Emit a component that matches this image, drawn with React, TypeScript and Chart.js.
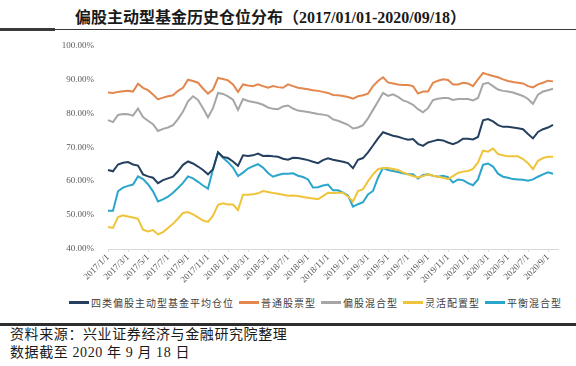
import React, { useEffect, useRef } from 'react';
import { Chart, registerables } from 'chart.js';

Chart.register(...registerables);

// Semi-monthly categories 2017/1/1 ... 2020/9/16, plus the axis end 2020/10/1
const categories: string[] = [];
for (let y = 2017; y <= 2020; y++) {
  for (let m = 1; m <= 12; m++) {
    if (y === 2020 && m > 9) break;
    categories.push(`${y}/${m}/1`, `${y}/${m}/16`);
  }
}
categories.push('2020/10/1');

const tickLabels: string[] = [
  '2017/1/1', '2017/3/1', '2017/5/1', '2017/7/1', '2017/9/1', '2017/11/1',
  '2018/1/1', '2018/3/1', '2018/5/1', '2018/7/1', '2018/9/1', '2018/11/1',
  '2019/1/1', '2019/3/1', '2019/5/1', '2019/7/1', '2019/9/1', '2019/11/1',
  '2020/1/1', '2020/3/1', '2020/5/1', '2020/7/1', '2020/9/1',
];

const avgPosition: number[] = [
  63.3, 62.9, 64.9, 65.4, 65.6, 64.9, 64.6, 62.0, 61.4, 61.0,
  59.4, 60.3, 60.8, 61.3, 62.9, 64.8, 65.8, 65.2, 64.3, 63.3,
  62.0, 63.5, 68.5, 67.1, 66.8, 65.8, 64.5, 67.6, 67.4, 67.6,
  68.1, 67.4, 67.5, 67.3, 67.2, 66.6, 66.3, 66.9, 66.8, 66.5,
  66.2, 65.7, 65.3, 66.2, 66.7, 66.3, 66.0, 65.7, 65.3, 63.8,
  66.3, 66.8, 68.5, 70.5, 72.6, 74.4, 73.9, 73.4, 73.1, 72.6,
  72.2, 72.4, 71.0, 70.4, 71.4, 71.8, 72.2, 72.0, 71.4, 70.9,
  71.5, 72.5, 72.5, 72.3, 73.0, 77.9, 78.3, 77.6, 76.5, 76.0,
  76.0, 75.8, 75.6, 75.3, 73.9, 72.6, 74.5, 75.3, 75.8, 76.6,
];

const stockFund: number[] = [
  86.1, 86.0, 86.3, 86.5, 86.6, 86.4, 88.7, 87.5, 86.8, 85.5,
  84.1, 84.6, 85.0, 85.3, 86.6, 87.5, 89.9, 89.5, 89.0, 87.3,
  85.8, 87.0, 90.4, 90.1, 89.7, 88.5, 86.3, 88.5, 88.2, 88.0,
  88.5, 88.0, 87.5, 88.0, 87.7, 87.5, 88.5, 88.0, 87.5, 87.3,
  87.1, 86.8, 86.6, 86.3, 86.0, 85.4, 85.3, 85.1, 84.8, 84.3,
  85.0, 85.3, 85.8, 88.0, 89.5, 90.6, 89.1, 88.8, 88.5, 88.3,
  88.3, 88.0, 85.8, 86.4, 86.4, 89.0, 89.6, 90.0, 89.8, 88.5,
  88.5, 89.0, 88.8, 88.0, 90.0, 91.9, 91.4, 91.0, 90.6, 90.0,
  89.5, 89.2, 89.0, 88.8, 88.0, 87.6, 88.5, 89.0, 89.6, 89.4,
];

const equityHybrid: number[] = [
  78.0, 77.4, 79.5, 79.8, 79.7, 79.3, 81.4, 78.9, 77.8, 76.8,
  74.8, 75.4, 75.8, 76.5, 78.3, 80.5, 83.5, 85.0, 83.9, 81.5,
  78.8, 81.5, 86.0, 85.7, 85.0, 84.0, 81.0, 84.2, 83.6, 83.3,
  83.0, 82.5, 81.7, 81.3, 81.2, 82.0, 82.3, 81.4, 80.8, 80.6,
  80.4, 80.1, 79.8, 79.6, 79.3, 78.2, 77.8, 77.2, 76.6, 75.5,
  75.8, 76.5, 78.5, 81.0, 83.5, 86.0, 85.1, 85.6, 84.8, 83.8,
  83.3, 82.5, 81.2, 80.3, 81.5, 83.9, 84.3, 84.5, 84.5, 83.9,
  84.2, 84.2, 84.2, 83.8, 84.5, 88.6, 89.0, 88.0, 87.0, 86.6,
  86.4, 86.1, 85.6, 85.1, 84.2, 82.8, 85.5, 86.4, 86.8, 87.2,
];

const flexibleAlloc: number[] = [
  46.5, 46.2, 49.4, 49.9, 49.6, 49.3, 48.9, 45.7, 45.2, 45.6,
  44.3, 45.0, 46.2, 47.4, 49.0, 50.6, 50.9, 50.2, 49.3, 48.4,
  48.0, 49.8, 53.0, 53.5, 53.1, 53.1, 51.5, 56.0, 56.0, 56.1,
  56.4, 57.1, 56.8, 56.5, 56.3, 56.0, 55.7, 55.8, 55.6, 55.3,
  55.1, 54.9, 54.7, 55.6, 56.6, 56.5, 56.6, 56.6, 55.5, 54.0,
  57.1, 57.6, 60.0, 62.0, 63.5, 63.9, 63.9, 63.6, 63.3, 62.6,
  62.0, 61.5, 61.1, 61.5, 62.0, 61.6, 61.3, 61.0, 60.6, 61.5,
  62.4, 62.8, 63.0, 63.6, 65.5, 69.0, 68.7, 69.6, 68.0, 67.6,
  67.3, 67.3, 67.3, 66.5, 65.3, 63.5, 66.0, 66.8, 67.2, 67.2,
];

const balancedHybrid: number[] = [
  51.3, 51.3, 57.0, 58.1, 58.6, 59.0, 61.4, 60.6, 59.1, 57.0,
  54.0, 54.6, 55.4, 56.6, 58.0, 59.5, 61.4, 60.8, 59.8, 58.7,
  57.8, 63.5, 68.5, 66.9, 65.6, 64.0, 61.5, 62.5, 63.7, 64.4,
  65.0, 64.0, 62.4, 61.3, 61.8, 62.2, 62.2, 62.3, 61.6, 61.2,
  60.5, 58.1, 58.2, 58.7, 59.0, 57.3, 57.3, 56.6, 55.8, 52.5,
  53.2, 53.8, 56.1, 57.1, 61.0, 63.9, 63.3, 63.0, 62.7, 62.3,
  62.0, 62.0, 60.8, 61.8, 62.0, 61.6, 61.3, 61.6, 61.2, 59.6,
  60.5, 60.3, 59.4, 58.8, 60.5, 64.8, 65.2, 64.3, 62.2, 61.3,
  61.0, 60.6, 60.5, 60.4, 60.1, 60.5, 61.3, 62.0, 62.6, 62.2,
];

const seriesNames: string[] = ['四类偏股主动型基金平均仓位', '普通股票型', '偏股混合型', '灵活配置型', '平衡混合型'];
const seriesColors: string[] = ['#25405e', '#e2874e', '#a6a6a6', '#efc43a', '#2aa5cc'];
const seriesData: number[][] = [avgPosition, stockFund, equityHybrid, flexibleAlloc, balancedHybrid];

const serifCJK = '"Liberation Serif", "Noto Sans CJK SC", serif';

export default function App() {
  const canvasRef = useRef<HTMLCanvasElement | null>(null);

  useEffect(() => {
    document.body.style.margin = '0';
    const canvas = canvasRef.current;
    if (!canvas) return;
    const chart = new Chart(canvas, {
      type: 'line',
      data: {
        labels: categories,
        datasets: seriesNames.map((name, i) => ({
          label: name,
          data: seriesData[i],
          borderColor: seriesColors[i],
          backgroundColor: seriesColors[i],
          borderWidth: 2,
          pointRadius: 0,
          tension: 0,
          fill: false,
        })),
      },
      options: {
        animation: false,
        responsive: false,
        maintainAspectRatio: false,
        layout: { padding: { top: 8, right: 18, bottom: 5, left: 0 } },
        plugins: { legend: { display: false }, tooltip: { enabled: false } },
        scales: {
          x: {
            type: 'category',
            offset: false,
            grid: { display: true, drawOnChartArea: false, drawTicks: true, tickLength: 3, color: '#d9d9d9' },
            border: { display: true, color: '#d9d9d9', width: 1 },
            ticks: {
              autoSkip: false,
              maxRotation: 45,
              minRotation: 45,
              padding: 0,
              color: '#595959',
              font: { family: '"Liberation Serif", serif', size: 9 },
            },
            afterBuildTicks: (scale: any) => {
              scale.ticks = scale.ticks.filter((t: any) => tickLabels.includes(categories[t.value]));
            },
            afterFit: (scale: any) => {
              scale.height = 40;
            },
          },
          y: {
            min: 40,
            max: 100,
            grid: { display: false },
            border: { display: false },
            ticks: {
              stepSize: 10,
              padding: 6,
              color: '#595959',
              font: { family: '"Liberation Serif", serif', size: 9 },
              callback: (v: any) => Number(v).toFixed(2) + '%',
            },
            afterFit: (scale: any) => {
              scale.width = 108;
            },
          },
        },
      },
    });
    return () => chart.destroy();
  }, []);

  return (
    <div style={{ position: 'relative', width: 576, height: 366, background: '#fff', overflow: 'hidden' }}>
      <div
        style={{
          position: 'absolute', left: 75, top: 7, whiteSpace: 'nowrap',
          fontFamily: serifCJK, fontWeight: 'bold', fontSize: 16, lineHeight: '22px', color: '#1a1a1a',
        }}
      >
        偏股主动型基金历史仓位分布（2017/01/01-2020/09/18）
      </div>
      <div style={{ position: 'absolute', left: 0, top: 29, width: 576, height: 1, background: '#3a3a3a' }} />
      <div style={{ position: 'absolute', left: 0, top: 28, width: 55, height: 3, background: '#3a3a3a' }} />
      <canvas
        ref={canvasRef}
        width={576}
        height={260}
        style={{ position: 'absolute', left: 0, top: 34, width: 576, height: 260, display: 'block' }}
      />
      <div
        style={{
          position: 'absolute', left: 69, top: 294, height: 16, display: 'flex', alignItems: 'center',
          whiteSpace: 'nowrap', fontFamily: '"Noto Sans CJK SC", sans-serif', fontSize: 10, color: '#404040',
        }}
      >
        {seriesNames.map((name, i) => (
          <div key={name} style={{ display: 'flex', alignItems: 'center', marginRight: 5 }}>
            <span style={{ display: 'inline-block', width: 20, height: 3, background: seriesColors[i], marginRight: 2 }} />
            <span style={{ letterSpacing: 1 }}>{name}</span>
          </div>
        ))}
      </div>
      <div style={{ position: 'absolute', left: 0, top: 323, width: 576, height: 3, background: '#2e2e2e' }} />
      <div
        style={{
          position: 'absolute', left: 10, top: 326, whiteSpace: 'nowrap',
          fontFamily: serifCJK, fontSize: 14, lineHeight: '18px', color: '#1a1a1a', letterSpacing: 0.6,
        }}
      >
        <div>资料来源：兴业证券经济与金融研究院整理</div>
        <div>数据截至 2020 年 9 月 18 日</div>
      </div>
    </div>
  );
}
